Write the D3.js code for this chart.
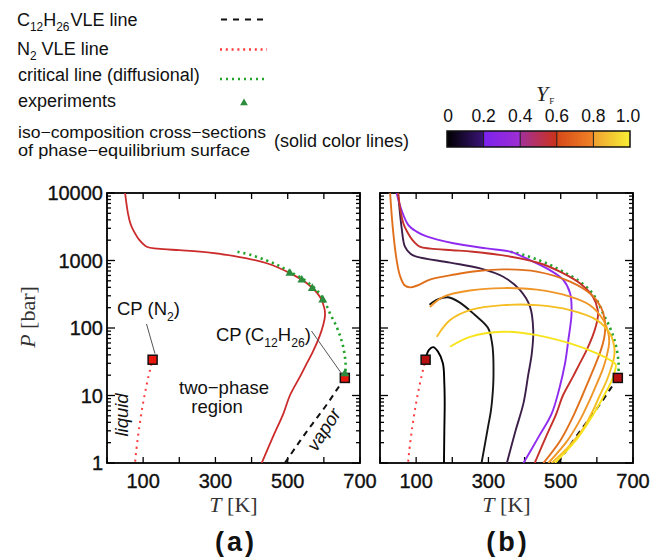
<!DOCTYPE html>
<html><head><meta charset="utf-8">
<script src="https://cdn.jsdelivr.net/npm/d3@7"></script>
<style>body{margin:0;background:#fff} text{font-family:"Liberation Sans",Arial,sans-serif}</style>
</head><body><svg id="c" width="656" height="560"></svg>
<script>
// ---------------- data ----------------
const xTicks = [0,100,200,300,400,500,600,700];
const xTickLabels = [100,300,500,700];
const yTickLabels = [1,10,100,1000,10000];
const cbTickLabels = ["0","0.2","0.4","0.6","0.8","1.0"];
const cbTickValues = [0,0.2,0.4,0.6,0.8,1.0];

// C12H26 vapour-liquid equilibrium line [T(K), P(bar)]
const c12h26VLE = [[492,1],[520,1.65],[550,2.8],[580,4.6],[610,7.6],[635,12],[658,18.2]];
// N2 vapour-liquid equilibrium line
const n2VLE = [[78,1.05],[80,1.37],[85,2.29],[90,3.6],[95,5.4],[100,7.78],[105,10.8],[110,14.7],[115,19.4],[120,25.1],[126.2,33.9]];
// critical line (diffusional)
const criticalLine = [[361,1350],[400,1200],[442,1000],[475,840],[506,683],[545,520],[580,365],[600,260],[617,165],[635,105],[648,68],[656,45],[660,30],[660,22]];
// experiments
const experiments = [[506,646],[539,514],[568,387],[597,260],[658,21]];
const cpN2 = [126.2,33.9];
const cpC12H26 = [658,18.2];

// iso-composition lines (panel b), the Y_F = 0.5 one also in panel a
const isoYF01 = [[128,38],[135,47],[147,52],[160,45],[174,30],[178,15],[179,7.6],[178,3],[177,1]];
const isoYF05 = [[137,221],[160,265],[188,285],[220,240],[262,157],[299,100],[310,60],[313,42],[314,20],[313,13.5],[307,6],[299,3.45],[281,1]];
const isoYF10 = [[50,10000],[60,3000],[69,1600],[85,1250],[101,1140],[194,930],[277,765],[341,575],[387,366],[415,207],[424,93],[420,42],[410,20],[397,7.7],[375,3],[351,1]];
const isoYF30 = [[46,10000],[60,5500],[78,3380],[100,2700],[129,2270],[203,1800],[295,1510],[360,1350],[415,1010],[470,720],[507,515],[526,326],[530,165],[521,66],[512,30],[495,12],[475,5.4],[440,2.5],[397,1]];
const isoYF50 = [[50,10000],[58,5000],[65,3500],[73,2800],[90,2000],[110,1600],[140,1500],[200,1420],[257,1350],[349,1170],[442,910],[506,650],[553,460],[589,290],[602,190],[603,150],[598,110],[588,75],[570,45],[550,28],[534,19],[506,10],[488,5.4],[460,2.5],[428,1]];
const isoYF60 = [[28,10000],[32,5000],[37,2500],[45,1100],[55,600],[68,430],[83,400],[105,430],[138,520],[207,620],[271,700],[341,740],[434,685],[526,485],[586,308],[612,200],[622,130],[623,95],[620,70],[610,45],[595,28],[580,18],[560,10],[535,5],[500,2.2],[452,1]];
const isoYF70 = [[138,205],[175,290],[249,360],[341,390],[434,370],[526,292],[581,218],[618,131],[632,83],[634,60],[628,40],[617,25],[600,15],[580,8.5],[555,4.5],[520,2.2],[466,1]];
const isoYF80 = [[157,74],[194,131],[249,184],[341,218],[434,218],[526,184],[600,131],[636,83],[648,53],[648,38],[640,26],[626,16],[608,10],[588,5.8],[560,3.1],[522,1.75],[475,1]];
const isoYF90 = [[194,52.7],[249,74],[341,88],[433,78.5],[526,59],[600,42],[636,33.5],[652,29],[650,23],[640,16],[622,10.5],[600,6.4],[575,3.9],[540,2.1],[484,1]];

// ---------------- styles ----------------
const isoStyle = [
  {d: isoYF01, c: "#000000"},
  {d: isoYF05, c: "#161616"},
  {d: isoYF10, c: "#3c1f48"},
  {d: isoYF30, c: "#8f2bf0"},
  {d: isoYF50, c: "#c4302a"},
  {d: isoYF60, c: "#e0701c"},
  {d: isoYF70, c: "#f09628"},
  {d: isoYF80, c: "#f5be22"},
  {d: isoYF90, c: "#f8e41c"}
];
const cbStops = [[0,"#000000"],[0.2,"#3b1478"],[0.2,"#7c22ee"],[0.4,"#9e2fd2"],[0.4,"#a2309a"],[0.6,"#cc3218"],[0.6,"#d64818"],[0.8,"#f08426"],[0.8,"#eea030"],[1,"#f8f034"]];

const svg = d3.select("#c");
svg.append("rect").attr("width",656).attr("height",560).attr("fill","#fff");

const y = d3.scaleLog().domain([1,10000]).range([463,193]);
const xA = d3.scaleLinear().domain([0,700]).range([107,360]);
const xB = d3.scaleLinear().domain([0,700]).range([380,633]);

const defs = svg.append("defs");

function rich(g, x, yy, parts, size, opts={}) {
  const t = g.append("text").attr("x",x).attr("y",yy).attr("font-size",size).attr("fill","#111");
  if (opts.anchor) t.attr("text-anchor",opts.anchor);
  let sub = false;
  parts.forEach(p => {
    const isSub = p[1] === 1;
    const ts = t.append("tspan").text(p[0]);
    if (isSub && !sub) ts.attr("dy", size*0.3);
    if (!isSub && sub) ts.attr("dy", -size*0.3);
    if (isSub) ts.attr("font-size", size*0.66);
    if (p[2]) ts.attr("dx", p[2]);
    sub = isSub;
  });
  return t;
}

function panel(x, id, showY) {
  const g = svg.append("g");
  const [x0,x1] = x.range();
  const [y1,y0] = y.range();
  defs.append("clipPath").attr("id",id).append("rect")
    .attr("x",x0).attr("y",y0).attr("width",x1-x0).attr("height",y1-y0);
  const tk = g.append("g").attr("stroke","#000").attr("stroke-width",1.3);
  xTicks.forEach(v => {
    tk.append("line").attr("x1",x(v)).attr("x2",x(v)).attr("y1",y1).attr("y2",y1-6);
    tk.append("line").attr("x1",x(v)).attr("x2",x(v)).attr("y1",y0).attr("y2",y0+6);
  });
  for (let dec=1; dec<=10000; dec*=10) {
    tk.append("line").attr("x1",x0).attr("x2",x0+8).attr("y1",y(dec)).attr("y2",y(dec));
    tk.append("line").attr("x1",x1).attr("x2",x1-8).attr("y1",y(dec)).attr("y2",y(dec));
    if (dec<10000) for (let m=2;m<=9;m++) {
      const v = dec*m;
      tk.append("line").attr("x1",x0).attr("x2",x0+4).attr("y1",y(v)).attr("y2",y(v));
      tk.append("line").attr("x1",x1).attr("x2",x1-4).attr("y1",y(v)).attr("y2",y(v));
    }
  }
  g.append("rect").attr("x",x0).attr("y",y0).attr("width",x1-x0).attr("height",y1-y0)
    .attr("fill","none").attr("stroke","#000").attr("stroke-width",1.8);
  xTickLabels.forEach(v => {
    g.append("text").attr("x",x(v)).attr("y",488).attr("text-anchor","middle")
      .attr("font-size",20).attr("fill","#111").attr("stroke","#111").attr("stroke-width",0.35).text(v);
  });
  if (showY) yTickLabels.forEach(v => {
    g.append("text").attr("x",x0-4).attr("y",y(v)).attr("dy","0.36em").attr("text-anchor","end")
      .attr("font-size",20).attr("fill","#111").attr("stroke","#111").attr("stroke-width",0.35).text(v);
  });
  const tt = g.append("text").attr("x",(x0+x1)/2).attr("y",512).attr("text-anchor","middle")
    .attr("font-size",22).attr("fill","#333").style("font-family","'Liberation Serif',serif");
  tt.append("tspan").attr("font-style","italic").text("T");
  tt.append("tspan").text(" [K]");
  const plot = g.append("g").attr("clip-path",`url(#${id})`);
  return {g, plot};
}

const line = (x) => d3.line().x(d=>x(d[0])).y(d=>y(d[1])).curve(d3.curveCatmullRom.alpha(0.5));

function common(p, x) {
  const L = line(x);
  p.plot.append("path").attr("d", L(criticalLine)).attr("fill","none")
    .attr("stroke","#22a32a").attr("stroke-width",2.6).attr("stroke-dasharray","2.2 3.8");
  p.plot.append("path").attr("d", L(n2VLE)).attr("fill","none")
    .attr("stroke","#ff3b3b").attr("stroke-width",2).attr("stroke-dasharray","2 4.5");
  p.plot.append("path").attr("d", L(c12h26VLE)).attr("fill","none")
    .attr("stroke","#111").attr("stroke-width",2).attr("stroke-dasharray","6 5");
}
function square(g, x, pt, fill) {
  g.append("rect").attr("x",x(pt[0])-4.5).attr("y",y(pt[1])-4.5).attr("width",9).attr("height",9)
    .attr("fill",fill).attr("stroke","#111").attr("stroke-width",1.5);
}
const tri = d3.symbol().type(d3.symbolTriangle).size(34);

// ---------- panel a ----------
const A = panel(xA, "clipA", true);
A.plot.append("path").attr("d", line(xA)(isoYF50)).attr("fill","none").attr("stroke","#cc2b2b").attr("stroke-width",1.8);
common(A, xA);
square(A.g, xA, cpN2, "#e8160c");
square(A.g, xA, cpC12H26, "#e8160c");
experiments.forEach(d => {
  A.g.append("path").attr("d",tri).attr("transform",`translate(${xA(d[0])},${y(d[1])})`).attr("fill","#2a8c3c");
});
A.g.append("line").attr("x1",146.5).attr("y1",324).attr("x2",155).attr("y2",y(cpN2[1])-6).attr("stroke","#555").attr("stroke-width",1);
A.g.append("line").attr("x1",311.5).attr("y1",331).attr("x2",xA(cpC12H26[0])-3).attr("y2",y(cpC12H26[1])-4).attr("stroke","#555").attr("stroke-width",1);
rich(A.g, 117, 315, [["CP (N",0],["2",1],[")",0]], 18.5);
rich(A.g, 216, 341, [["CP",0],["(C",0,3],["12",1],["H",0],["26",1],[")",0]], 18.5);
A.g.append("text").attr("x",224).attr("y",394).attr("text-anchor","middle").attr("font-size",18.5).attr("fill","#111").text("two\u2212phase");
A.g.append("text").attr("x",217).attr("y",413).attr("text-anchor","middle").attr("font-size",18.5).attr("fill","#111").text("region");
A.g.append("text").attr("transform","translate(128,415) rotate(-90)").attr("text-anchor","middle")
  .attr("font-size",18.5).attr("font-style","italic").attr("fill","#111").text("liquid");
A.g.append("text").attr("transform","translate(329,433) rotate(-57)").attr("text-anchor","middle")
  .attr("font-size",18.5).attr("font-style","italic").attr("fill","#111").text("vapor");
const pt = svg.append("text").attr("transform","translate(35,317) rotate(-90)").attr("text-anchor","middle")
  .attr("font-size",22).attr("fill","#333").style("font-family","'Liberation Serif',serif");
pt.append("tspan").attr("font-style","italic").text("P");
pt.append("tspan").text(" [bar]");

// ---------- panel b ----------
const B = panel(xB, "clipB", false);
common(B, xB);
square(B.g, xB, cpN2, "#b81010");
isoStyle.forEach(s => {
  B.plot.append("path").attr("d", line(xB)(s.d)).attr("fill","none").attr("stroke",s.c).attr("stroke-width",1.9);
});
square(B.g, xB, cpC12H26, "#b81010");

svg.append("text").attr("x",236).attr("y",551).attr("text-anchor","middle").attr("font-size",27)
  .attr("font-weight","bold").attr("letter-spacing",3).attr("fill","#111").text("(a)");
svg.append("text").attr("x",508).attr("y",551).attr("text-anchor","middle").attr("font-size",27)
  .attr("font-weight","bold").attr("letter-spacing",3).attr("fill","#111").text("(b)");

// ---------- legend ----------
const lg = svg.append("g");
rich(lg, 17, 26, [["C",0],["12",1],["H",0],["26",1],["VLE line",0,1]], 18);
rich(lg, 17, 55, [["N",0],["2",1],[" VLE line",0]], 18);
lg.append("text").attr("x",18).attr("y",81).attr("font-size",18).attr("fill","#111").text("critical line (diffusional)");
lg.append("text").attr("x",18).attr("y",107).attr("font-size",18).attr("fill","#111").text("experiments");
lg.append("text").attr("x",18).attr("y",137.5).attr("font-size",16.5).attr("fill","#111")
  .attr("textLength",248).attr("lengthAdjust","spacingAndGlyphs").text("iso\u2212composition cross\u2212sections");
lg.append("text").attr("x",18).attr("y",155.5).attr("font-size",16.5).attr("fill","#111")
  .attr("textLength",232).attr("lengthAdjust","spacingAndGlyphs").text("of phase\u2212equilibrium surface");
lg.append("text").attr("x",274).attr("y",147).attr("font-size",18).attr("fill","#111").text("(solid color lines)");
lg.append("line").attr("x1",221).attr("x2",267).attr("y1",19.5).attr("y2",19.5).attr("stroke","#111").attr("stroke-width",2).attr("stroke-dasharray","6 6");
lg.append("line").attr("x1",220).attr("x2",267).attr("y1",49.5).attr("y2",49.5).attr("stroke","#ff3b3b").attr("stroke-width",2.5).attr("stroke-dasharray","2 3.8");
lg.append("line").attr("x1",220).attr("x2",267).attr("y1",79).attr("y2",79).attr("stroke","#22a32a").attr("stroke-width",2.5).attr("stroke-dasharray","2 4");
lg.append("path").attr("d",d3.symbol().type(d3.symbolTriangle).size(26)).attr("transform","translate(244,103)").attr("fill","#2a8c3c");

// ---------- colorbar ----------
const cb = d3.scaleLinear().domain([0,1]).range([447,630]);
const grad = defs.append("linearGradient").attr("id","cbg").attr("x1","0%").attr("x2","100%");
cbStops.forEach(s => grad.append("stop").attr("offset",(s[0]*100)+"%").attr("stop-color",s[1]));
svg.append("rect").attr("x",cb(0)).attr("y",131).attr("width",cb(1)-cb(0)).attr("height",16).attr("fill","url(#cbg)");
[0.2,0.4,0.6,0.8].forEach(v => svg.append("line").attr("x1",cb(v)).attr("x2",cb(v)).attr("y1",131).attr("y2",147).attr("stroke","#222").attr("stroke-width",1));
svg.append("rect").attr("x",cb(0)).attr("y",131).attr("width",cb(1)-cb(0)).attr("height",16).attr("fill","none").attr("stroke","#111").attr("stroke-width",1.5);
cbTickValues.forEach((v,i) => {
  svg.append("text").attr("x",cb(v)+(i===0?1:(i===5?-2:0))).attr("y",122).attr("text-anchor","middle").attr("font-size",17.5).attr("fill","#111").text(cbTickLabels[i]);
});
const yf = svg.append("text").attr("x",536).attr("y",101).attr("font-size",22).attr("fill","#222").style("font-family","'Liberation Serif',serif");
yf.append("tspan").attr("font-style","italic").text("Y");
yf.append("tspan").attr("font-size",9).attr("dy",2.5).attr("dx",1).text("F");
</script></body></html>
